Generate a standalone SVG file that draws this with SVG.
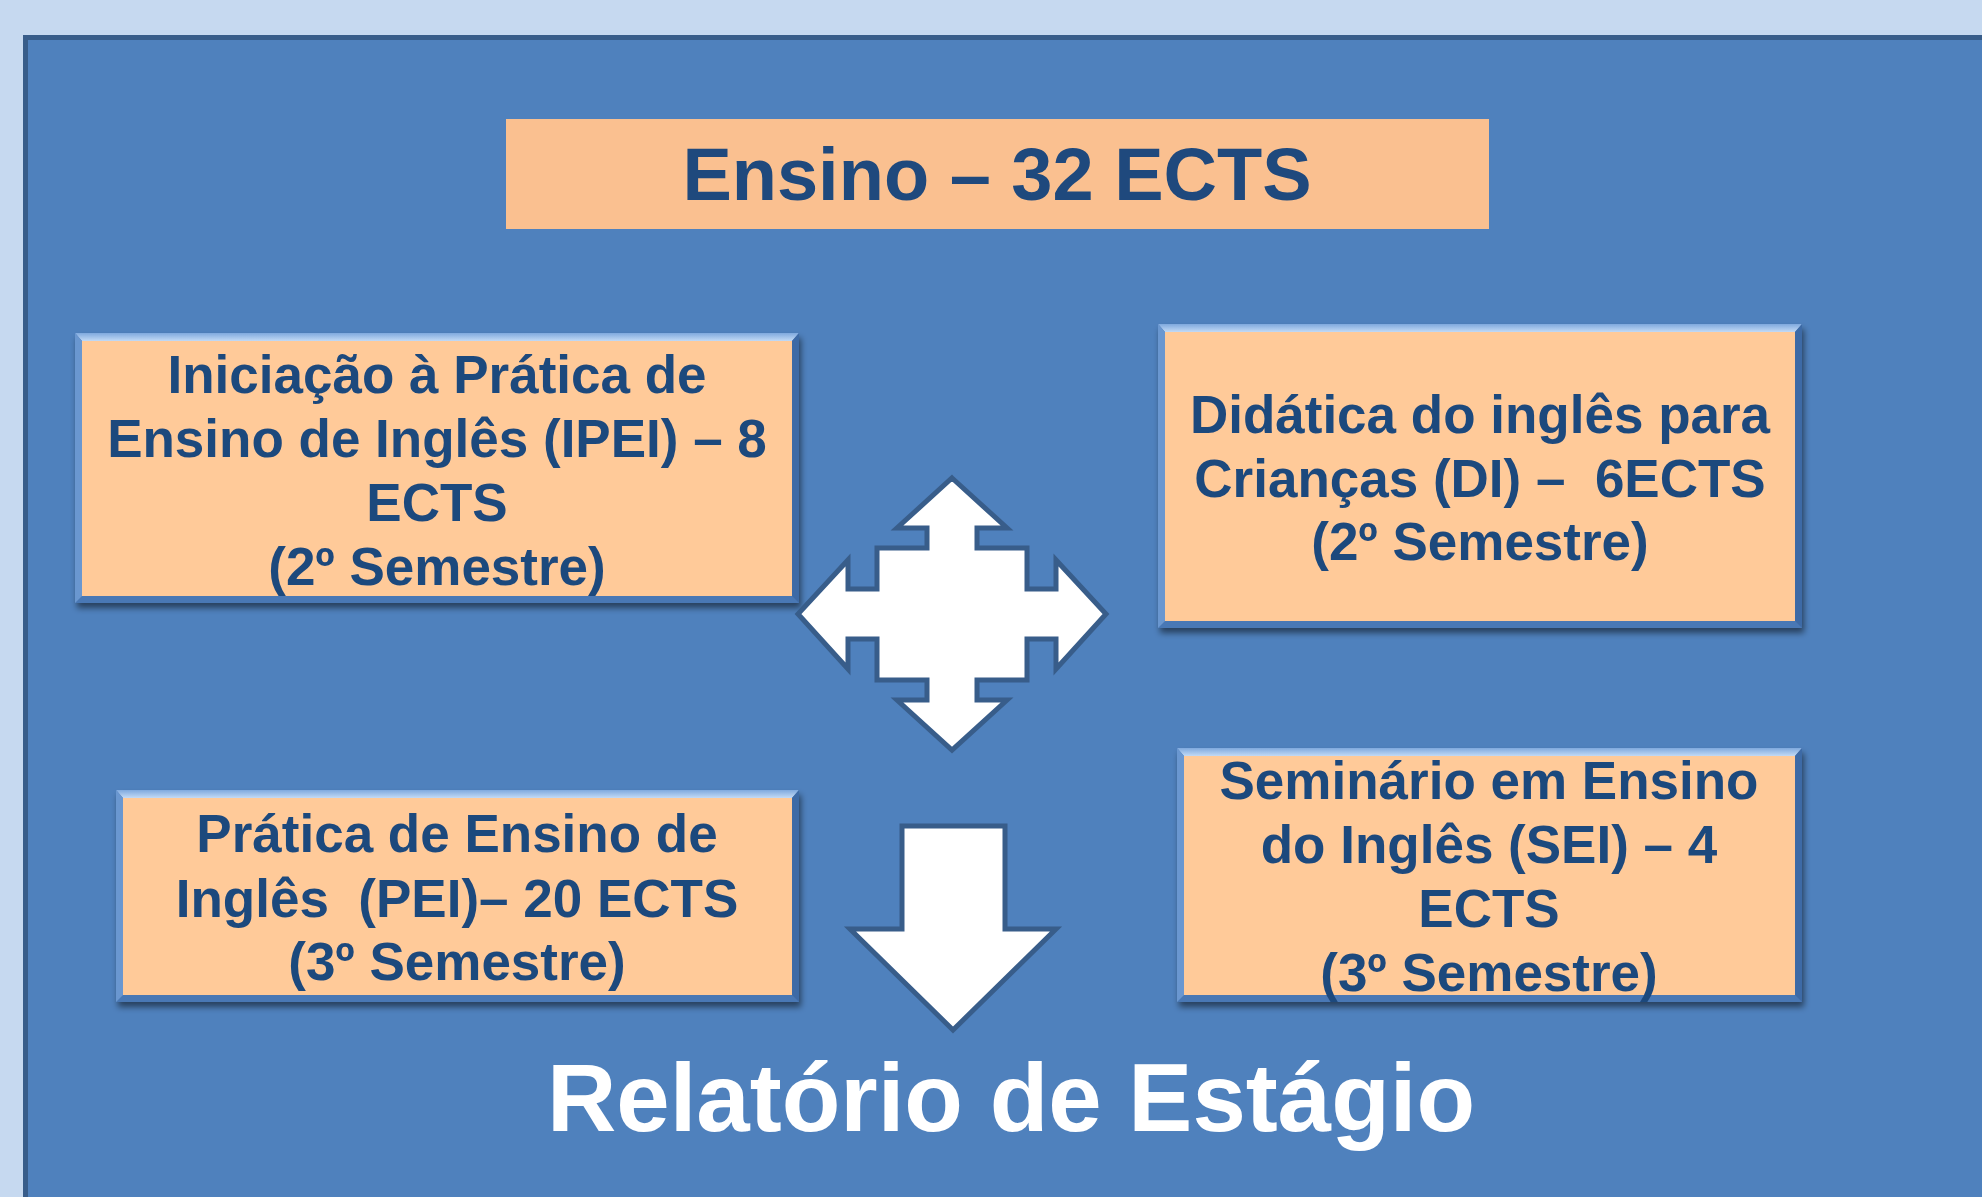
<svg xmlns="http://www.w3.org/2000/svg" width="1982" height="1197" viewBox="0 0 1982 1197">
<defs>
<style>
.bt{font-family:"Liberation Sans",Arial,sans-serif;font-weight:bold;font-size:53px;fill:#1F497D;text-anchor:middle}
.title{font-family:"Liberation Sans",Arial,sans-serif;font-weight:bold;font-size:74px;fill:#1F497D;text-anchor:middle}
.big{font-family:"Liberation Sans",Arial,sans-serif;font-weight:bold;font-size:96px;fill:#FFFFFF;text-anchor:middle}
.face{fill:#FFCA99}
.edge-t{fill:url(#gt)}
.edge-l{fill:#6A97D0}
.edge-r{fill:#3E6BA6}
.edge-b{fill:#4A78B5}
.arrow{fill:#FFFFFF;stroke:#385D8A;stroke-width:5;stroke-linejoin:miter}
</style>
<linearGradient id="gt" x1="0" y1="0" x2="0" y2="1">
<stop offset="0" stop-color="#7FA9DE"/>
<stop offset="1" stop-color="#C3DAF5"/>
</linearGradient>
<filter id="sh" x="-5%" y="-5%" width="110%" height="115%">
<feGaussianBlur in="SourceAlpha" stdDeviation="3"/>
<feOffset dx="2" dy="5"/>
<feComponentTransfer><feFuncA type="linear" slope="0.5"/></feComponentTransfer>
<feMerge><feMergeNode/><feMergeNode in="SourceGraphic"/></feMerge>
</filter>
</defs>
<rect x="0" y="0" width="1982" height="1197" fill="#C6D9F0"/>
<rect x="25.5" y="37.5" width="2000" height="1200" fill="#4F81BD" stroke="#385D8A" stroke-width="5"/>

<g id="title">
<rect x="506" y="119" width="983" height="110" fill="#FAC090"/>
<text class="title" x="997" y="200">Ensino – 32 ECTS</text>
</g>

<g id="ipei" filter="url(#sh)">
<rect x="75" y="333" width="724" height="270" class="edge-b"/>
<polygon class="edge-t" points="75,333 799,333 792,341 82,341"/>
<polygon class="edge-l" points="75,333 82,341 82,596 75,603"/>
<polygon class="edge-r" points="799,333 792,341 792,596 799,603"/>
<rect x="82" y="341" width="710" height="255" class="face"/>
<text class="bt" x="437" y="393">Iniciação à Prática de</text>
<text class="bt" x="437" y="457">Ensino de Inglês (IPEI) – 8</text>
<text class="bt" x="437" y="521">ECTS</text>
<text class="bt" x="437" y="585">(2º Semestre)</text>
</g>

<g id="di" filter="url(#sh)">
<rect x="1158" y="324" width="644" height="304" class="edge-b"/>
<polygon class="edge-t" points="1158,324 1802,324 1795,332 1165,332"/>
<polygon class="edge-l" points="1158,324 1165,332 1165,621 1158,628"/>
<polygon class="edge-r" points="1802,324 1795,332 1795,621 1802,628"/>
<rect x="1165" y="332" width="630" height="289" class="face"/>
<text class="bt" x="1480" y="433">Didática do inglês para</text>
<text class="bt" x="1480" y="497" xml:space="preserve">Crianças (DI) –  6ECTS</text>
<text class="bt" x="1480" y="560">(2º Semestre)</text>
</g>

<g id="pei" filter="url(#sh)">
<rect x="116" y="790" width="683" height="212" class="edge-b"/>
<polygon class="edge-t" points="116,790 799,790 792,798 123,798"/>
<polygon class="edge-l" points="116,790 123,798 123,995 116,1002"/>
<polygon class="edge-r" points="799,790 792,798 792,995 799,1002"/>
<rect x="123" y="798" width="669" height="197" class="face"/>
<text class="bt" x="457" y="852">Prática de Ensino de</text>
<text class="bt" x="457" y="917" xml:space="preserve">Inglês  (PEI)– 20 ECTS</text>
<text class="bt" x="457" y="980">(3º Semestre)</text>
</g>

<g id="sei" filter="url(#sh)">
<rect x="1177" y="748" width="625" height="254" class="edge-b"/>
<polygon class="edge-t" points="1177,748 1802,748 1795,756 1184,756"/>
<polygon class="edge-l" points="1177,748 1184,756 1184,995 1177,1002"/>
<polygon class="edge-r" points="1802,748 1795,756 1795,995 1802,1002"/>
<rect x="1184" y="756" width="611" height="239" class="face"/>
<text class="bt" x="1489" y="799">Seminário em Ensino</text>
<text class="bt" x="1489" y="863">do Inglês (SEI) – 4</text>
<text class="bt" x="1489" y="927">ECTS</text>
<text class="bt" x="1489" y="991">(3º Semestre)</text>
</g>

<g id="connectors">
<polygon id="cross-arrow" class="arrow" points="952,478 1007,528 977,528 977,548 1027,548 1027,589 1056,589 1056,560 1106,614 1056,669 1056,639 1027,639 1027,680 977,680 977,700 1007,700 952,750 897,700 927,700 927,680 877,680 877,639 848,639 848,669 798,614 848,560 848,589 877,589 877,548 927,548 927,528 897,528"/>
<polygon id="down-arrow" class="arrow" points="902,826 1005,826 1005,929 1056,929 953,1030 850,929 902,929"/>
</g>

<g id="relatorio">
<text class="big" x="1011" y="1131">Relatório de Estágio</text>
</g>
</svg>
